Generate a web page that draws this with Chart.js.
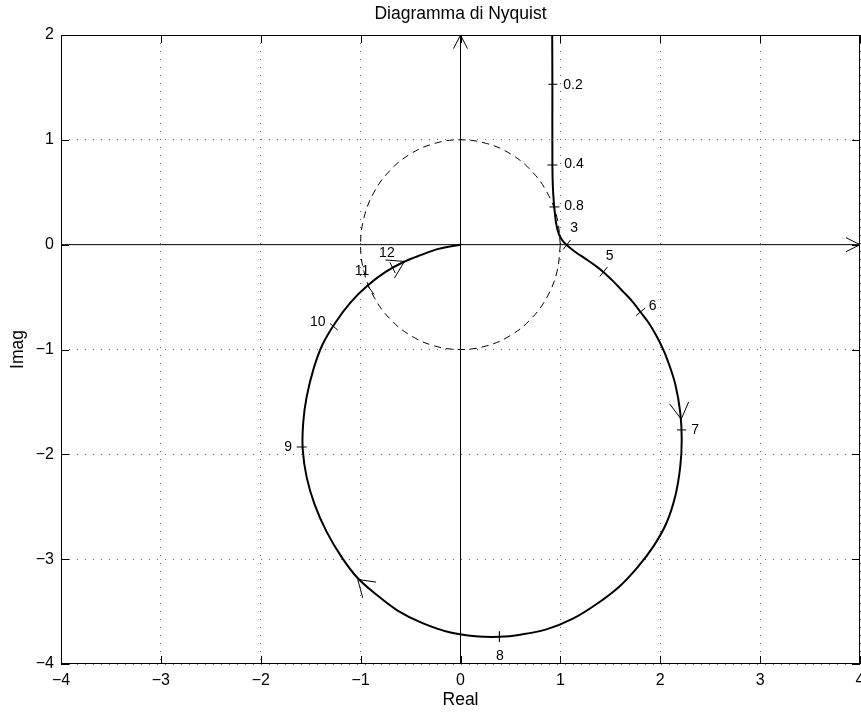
<!DOCTYPE html>
<html>
<head>
<meta charset="utf-8">
<script src="https://cdn.jsdelivr.net/npm/chart.js@4"></script>
<style>
  html, body { margin: 0; padding: 0; background: #fff; }
  #wrap { width: 861px; height: 713px; }
</style>
</head>
<body>
<div id="wrap"><canvas id="nyquist"></canvas></div>
<script>
// Curva di Nyquist (Re, Im), pulsazione crescente
const curveRe = [0.914, 0.918, 0.92, 0.92, 0.925, 0.935, 0.945, 0.96, 0.985, 1.02, 1.06, 1.15, 1.26, 1.35, 1.43,
  1.53, 1.63, 1.72, 1.80, 1.88, 1.95, 2.02, 2.08, 2.15, 2.20, 2.215, 2.20, 2.15, 2.06, 1.93, 1.77, 1.58, 1.36, 1.12, 0.86,
  0.60, 0.39, 0.15, -0.10, -0.38, -0.63, -0.84, -1.03, -1.19, -1.34, -1.46, -1.54, -1.58, -1.575, -1.54, -1.47,
  -1.38, -1.25, -1.10, -0.93, -0.75, -0.58, -0.40, -0.22, 0];
const curveIm = [2.6, 2.0, 1.53, 0.76, 0.55, 0.40, 0.30, 0.19, 0.10, 0.04, 0.0, -0.07, -0.14, -0.20, -0.26,
  -0.35, -0.45, -0.54, -0.64, -0.74, -0.85, -0.98, -1.12, -1.33, -1.60, -1.86, -2.12, -2.40, -2.66, -2.88, -3.08, -3.27, -3.43, -3.57, -3.67,
  -3.72, -3.74, -3.735, -3.70, -3.61, -3.49, -3.34, -3.18, -2.98, -2.74, -2.48, -2.22, -1.95, -1.70, -1.45, -1.18,
  -0.95, -0.74, -0.55, -0.39, -0.26, -0.17, -0.10, -0.04, 0];

// cerchio unitario tratteggiato
const circleRe = [1, 0.966, 0.866, 0.707, 0.5, 0.259, 0, -0.259, -0.5, -0.707, -0.866, -0.966, -1,
  -0.966, -0.866, -0.707, -0.5, -0.259, 0, 0.259, 0.5, 0.707, 0.866, 0.966, 1];
const circleIm = [0, 0.259, 0.5, 0.707, 0.866, 0.966, 1, 0.966, 0.866, 0.707, 0.5, 0.259, 0,
  -0.259, -0.5, -0.707, -0.866, -0.966, -1, -0.966, -0.866, -0.707, -0.5, -0.259, 0];

// assi e frecce
const realAxis = [[-4, 0], [4, 0]];
const imagAxis = [[0, -4], [0, 2]];
const arrowHeads = [
  [[3.86, 0.067], [4, 0], [3.86, -0.067]],
  [[-0.07, 1.87], [0, 2], [0.07, 1.87]],
  [[2.094, -1.519], [2.21, -1.665], [2.285, -1.50]],
  [[-0.845, -3.219], [-1.029, -3.193], [-0.979, -3.369]],
  [[-0.752, -0.146], [-0.561, -0.160], [-0.661, -0.318]]
];

// tacche delle pulsazioni
const freqLabels = ['0.2', '0.4', '0.8', '3', '5', '6', '7', '8', '9', '10', '11', '12'];
const freqTicks = [
  [[0.88, 1.53], [0.97, 1.53]],
  [[0.87, 0.76], [0.97, 0.76]],
  [[0.89, 0.36], [0.99, 0.36]],
  [[1.028, -0.045], [1.102, 0.045]],
  [[1.395, -0.303], [1.471, -0.213]],
  [[1.758, -0.677], [1.85, -0.603]],
  [[2.167, -1.767], [2.261, -1.767]],
  [[0.39, -3.69], [0.39, -3.79]],
  [[-1.64, -1.93], [-1.54, -1.93]],
  [[-1.306, -0.752], [-1.229, -0.815]],
  [[-0.936, -0.384], [-0.864, -0.476]],
  [[-0.707, -0.169], [-0.653, -0.271]]
];
const labelRe = [1.127, 1.137, 1.137, 1.137, 1.493, 1.924, 2.35, 0.394, -1.726, -1.43, -0.985, -0.737];
const labelIm = [1.519, 0.764, 0.363, 0.156, -0.105, -0.583, -1.767, -3.925, -1.93, -0.742, -0.248, -0.083];

const xTicks = [-4, -3, -2, -1, 0, 1, 2, 3, 4];
const yTicks = [-4, -3, -2, -1, 0, 1, 2];

const toPoints = (pairs) => pairs.map(p => ({ x: p[0], y: p[1] }));
const thin = (data) => ({ data, borderColor: '#000', borderWidth: 1, showLine: true, pointRadius: 0, tension: 0 });

const datasets = [];
datasets.push(thin(toPoints(realAxis)));
datasets.push(thin(toPoints(imagAxis)));
arrowHeads.forEach(a => datasets.push(thin(toPoints(a))));
freqTicks.forEach(t => datasets.push(thin(toPoints(t))));
datasets.push({
  data: circleRe.map((re, i) => ({ x: re, y: circleIm[i] })),
  borderColor: '#000', borderWidth: 1, borderDash: [7, 5],
  showLine: true, pointRadius: 0, tension: 0.4
});
datasets.push({
  data: curveRe.map((re, i) => ({ x: re, y: curveIm[i] })),
  borderColor: '#000', borderWidth: 2,
  showLine: true, pointRadius: 0, tension: 0.35
});

Chart.defaults.font.family = "'Liberation Sans', Arial, sans-serif";
Chart.defaults.color = '#000';

// cornice, tacche interne e etichette delle pulsazioni
const frame = {
  id: 'frame',
  afterDatasetsDraw(chart) {
    const { ctx, chartArea: a, scales: { x, y } } = chart;
    ctx.save();
    ctx.strokeStyle = '#000';
    ctx.lineWidth = 1;
    ctx.beginPath();
    xTicks.forEach(v => {
      const px = Math.round(x.getPixelForValue(v)) + 0.5;
      ctx.moveTo(px, a.bottom); ctx.lineTo(px, a.bottom - 8);
      ctx.moveTo(px, a.top); ctx.lineTo(px, a.top + 8);
    });
    yTicks.forEach(v => {
      const py = Math.round(y.getPixelForValue(v)) + 0.5;
      ctx.moveTo(a.left, py); ctx.lineTo(a.left + 8, py);
      ctx.moveTo(a.right, py); ctx.lineTo(a.right - 8, py);
    });
    ctx.stroke();
    ctx.strokeRect(a.left + 0.5, a.top + 0.5, a.right - a.left - 1, a.bottom - a.top - 1);

    ctx.fillStyle = '#000';
    ctx.font = "14px 'Liberation Sans', Arial, sans-serif";
    ctx.textAlign = 'center';
    ctx.textBaseline = 'middle';
    freqLabels.forEach((t, i) => {
      ctx.fillText(t, x.getPixelForValue(labelRe[i]), y.getPixelForValue(labelIm[i]));
    });
    ctx.restore();
  }
};

const minus = (v) => String(v).replace('-', '\u2212');

new Chart(document.getElementById('nyquist'), {
  type: 'scatter',
  data: { datasets },
  options: {
    responsive: true,
    maintainAspectRatio: false,
    animation: false,
    layout: { padding: { left: 0, right: 1, top: 0, bottom: 0 } },
    plugins: {
      legend: { display: false },
      tooltip: { enabled: false },
      title: {
        display: true,
        fullSize: false,
        text: 'Diagramma di Nyquist',
        font: { size: 17.5, weight: 'normal' },
        padding: { top: 4, bottom: 10 }
      }
    },
    scales: {
      x: {
        type: 'linear', min: -4, max: 4,
        ticks: { stepSize: 1, padding: 7, font: { size: 16 }, callback: minus, maxRotation: 0 },
        grid: { color: '#666', drawTicks: false },
        border: { display: false, dash: [1, 7] },
        title: { display: true, text: 'Real', font: { size: 17.5 }, padding: { top: 0, bottom: 2.5 } },
        afterFit(s) { s.height = 49; s.paddingLeft = 0; s.paddingRight = 0; }
      },
      y: {
        type: 'linear', min: -4, max: 2,
        ticks: { stepSize: 1, padding: 7, font: { size: 16 }, callback: minus },
        grid: { color: '#666', drawTicks: false },
        border: { display: false, dash: [1, 7] },
        title: { display: true, text: 'Imag', font: { size: 17.5 }, padding: { top: 7.5, bottom: 0 } },
        afterFit(s) { s.width = 61; s.paddingTop = 0; s.paddingBottom = 0; }
      }
    }
  },
  plugins: [frame]
});
</script>
</body>
</html>
